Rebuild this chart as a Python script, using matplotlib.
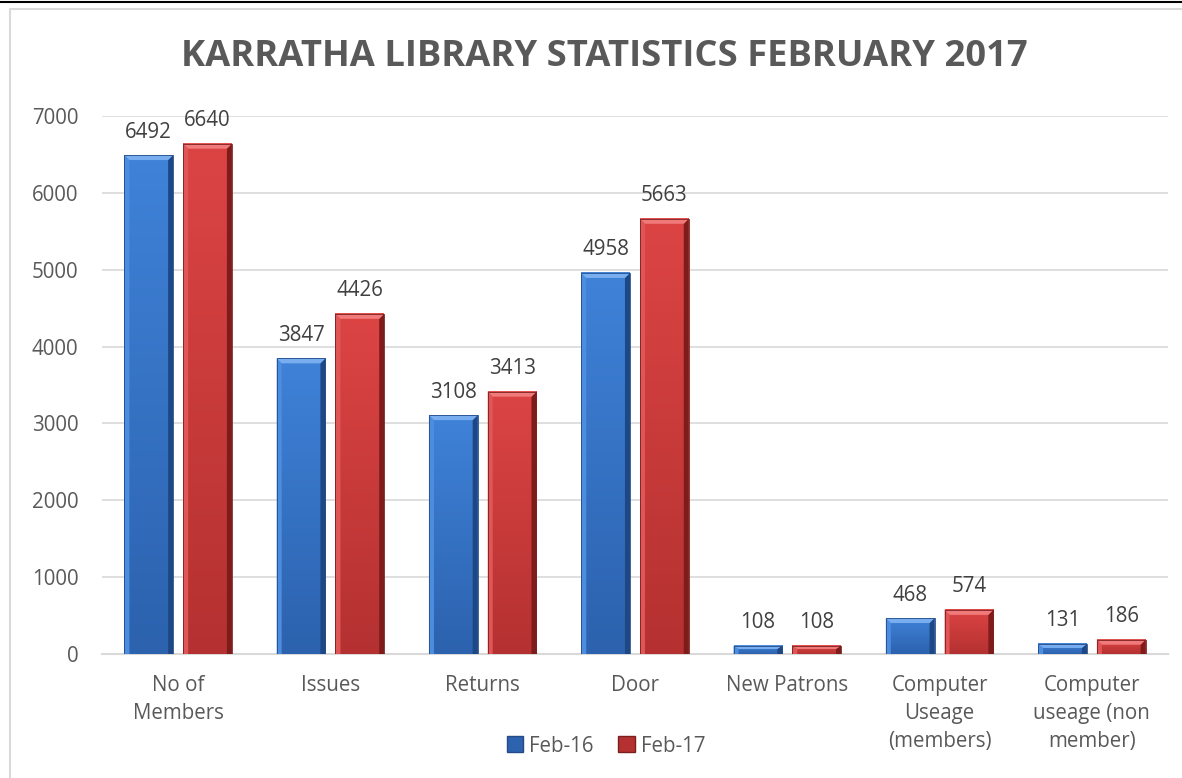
import numpy as np
import matplotlib
matplotlib.use("Agg")
import matplotlib.pyplot as plt
from matplotlib.patches import Polygon, Rectangle, Patch
from matplotlib.lines import Line2D

plt.rcParams['font.family'] = ['Open Sans', 'DejaVu Sans']

categories = ["No of\nMembers", "Issues", "Returns", "Door", "New Patrons",
              "Computer\nUseage\n(members)", "Computer\nuseage (non\nmember)"]
feb16 = [6492, 3847, 3108, 4958, 108, 468, 131]
feb17 = [6640, 4426, 3413, 5663, 108, 574, 186]
series_names = ["Feb-16", "Feb-17"]

title = "KARRATHA LIBRARY STATISTICS FEBRUARY 2017"
text_col = "#595959"

# colours: face top, face bottom, top bevel, left bevel, right bevel, edge
blue = dict(top="#3f82d8", bot="#2c62ae", bevel="#78aef0", left="#4d8ddf",
            right="#1d4785", edge="#244b85")
red = dict(top="#dc4444", bot="#b53131", bevel="#f07a7a", left="#e05555",
           right="#7e1c1c", edge="#7a1e1e")

W, H = 1182, 778
fig = plt.figure(figsize=(W / 100, H / 100), dpi=100)
ax = fig.add_axes([102 / W, 1 - 654 / H, (1168 - 102) / W, (654 - 116) / H])
ax.set_xlim(-0.5, 6.5)
ax.set_ylim(0, 7000)

px_x = (1168 - 102) / 7.0      # pixels per x unit
px_y = (654 - 116) / 7000.0    # pixels per y unit


def draw_bar(x0, w, h, c):
    x1 = x0 + w
    dx = 5 / px_x
    dy = min(5 / px_y, h * 0.4)
    grad = np.linspace(0, 1, 64).reshape(-1, 1)
    cmap = matplotlib.colors.LinearSegmentedColormap.from_list("g", [c["bot"], c["top"]])
    ax.imshow(grad, extent=(x0, x1, 0, h), origin="lower", aspect="auto",
              cmap=cmap, zorder=3, interpolation="bilinear")
    ax.add_patch(Polygon([(x0, 0), (x0, h), (x0 + dx, h - dy), (x0 + dx, 0)],
                         closed=True, facecolor=c["left"], edgecolor="none", zorder=4))
    ax.add_patch(Polygon([(x1, 0), (x1, h), (x1 - dx, h - dy), (x1 - dx, 0)],
                         closed=True, facecolor=c["right"], edgecolor="none", zorder=4))
    ax.add_patch(Polygon([(x0, h), (x1, h), (x1 - dx, h - dy), (x0 + dx, h - dy)],
                         closed=True, facecolor=c["bevel"], edgecolor="none", zorder=4))
    ax.add_patch(Rectangle((x0, 0), w, h, facecolor="none", edgecolor=c["edge"],
                           linewidth=0.6, zorder=5))


bw = 0.32
off = 0.193
x = np.arange(len(categories))
for i in range(len(categories)):
    for vals, c, sgn in ((feb16, blue, -1), (feb17, red, 1)):
        xc = x[i] + sgn * off
        draw_bar(xc - bw / 2, bw, vals[i], c)
        ax.annotate(str(vals[i]), (xc, vals[i]), xytext=(0, 9), textcoords="offset points",
                    ha="center", va="bottom", fontsize=14.8, color="#404040", zorder=6)

ax.set_yticks(range(0, 7001, 1000))
ax.grid(axis="y", color="#d9d9d9", linewidth=1.2, zorder=0)
ax.set_axisbelow(True)
for s in ["top", "right", "left"]:
    ax.spines[s].set_visible(False)
ax.spines["bottom"].set_color("#d9d9d9")
ax.spines["bottom"].set_linewidth(1.5)
ax.set_xticks(x)
ax.set_xticklabels(categories, linespacing=1.45)
ax.tick_params(axis="x", length=0, pad=15, labelsize=14.8, labelcolor=text_col)
ax.tick_params(axis="y", length=0, pad=17, labelsize=14.8, labelcolor=text_col)

fig.text(604 / W, 1 - 57 / H, title, ha="center", va="center", fontsize=26.2,
         fontweight="bold", color=text_col)

handles = [Patch(facecolor=blue["bot"], edgecolor=blue["edge"]),
           Patch(facecolor=red["bot"], edgecolor=red["edge"])]
fig.legend(handles, series_names, loc="center", bbox_to_anchor=(606 / W, 1 - 746 / H),
           ncol=2, frameon=False, fontsize=14.8, labelcolor=text_col,
           handlelength=0.8, handleheight=0.8, handletextpad=0.3, columnspacing=1.2)

# chart frame and top rule
fig.add_artist(Line2D([0, 1], [1 - 2 / H, 1 - 2 / H], color="black", linewidth=1.5,
                      transform=fig.transFigure))
fig.add_artist(Line2D([10 / W, 10 / W, 1], [0, 1 - 9 / H, 1 - 9 / H], color="#d9d9d9",
                      linewidth=1.5, transform=fig.transFigure))

fig.savefig("out.png", dpi=100)
